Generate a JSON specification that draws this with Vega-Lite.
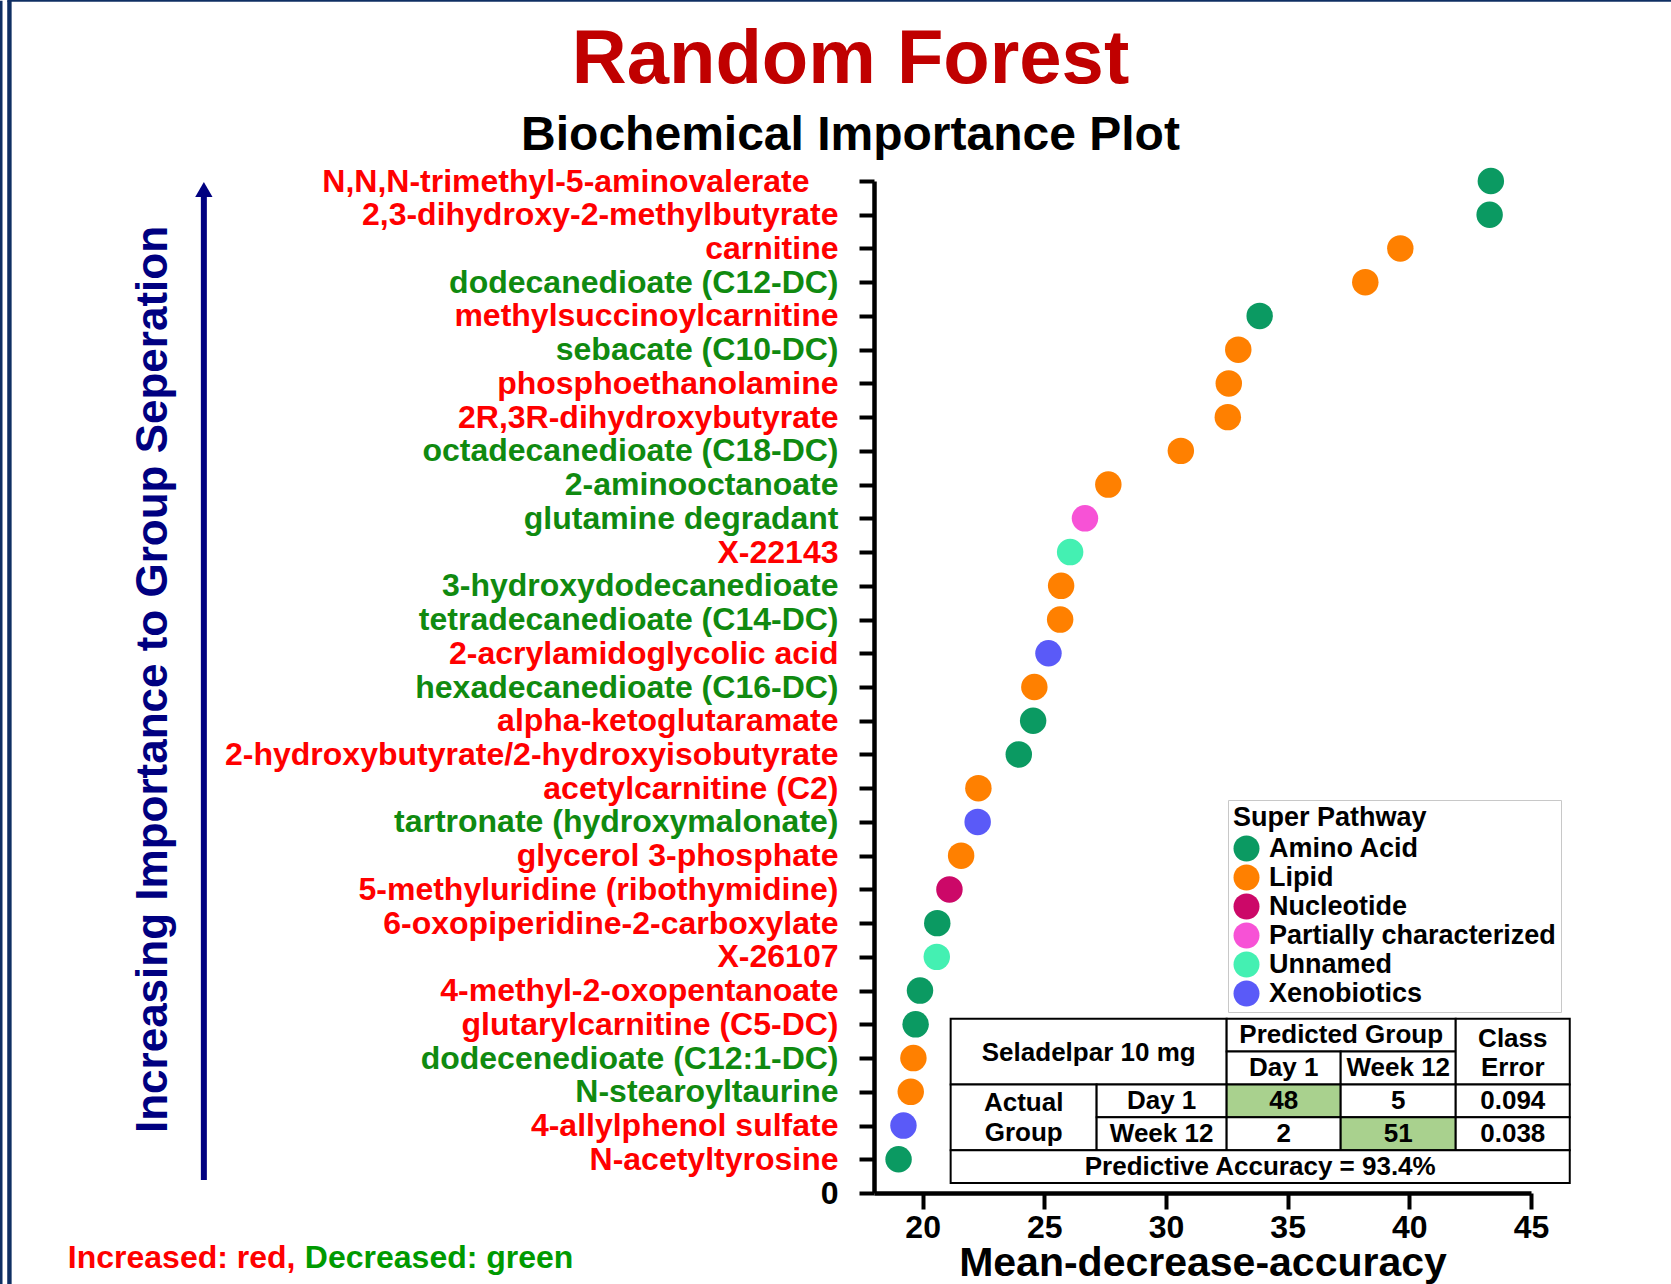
{
  "$schema": "https://vega.github.io/schema/vega-lite/v6.json",
  "width": 657,
  "height": 1012,
  "autosize": {"type": "none"},
  "padding": {"left": 874, "top": 181, "right": 140, "bottom": 91},
  "background": "white",
  "config": {"font": "Liberation Sans", "view": {"stroke": null}, "axisY": {"labelOverlap": false, "labelLimit": 900, "labelBound": false}},
  "title": {
    "text": "Random Forest",
    "subtitle": "Biochemical Importance Plot",
    "anchor": "middle",
    "frame": "group",
    "dx": -352,
    "offset": -162,
    "fontSize": 76,
    "fontWeight": "bold",
    "color": "#C00000",
    "font": "Liberation Sans",
    "subtitleFont": "Liberation Sans",
    "subtitleFontSize": 48,
    "subtitleFontWeight": "bold",
    "subtitleColor": "black",
    "subtitlePadding": 13
  },
  "datasets": {
    "metabolites": [
      {"rank": 30, "name": "N,N,N-trimethyl-5-aminovalerate", "change": "increased", "pathway": "Amino Acid", "mda": 43.35},
      {"rank": 29, "name": "2,3-dihydroxy-2-methylbutyrate", "change": "increased", "pathway": "Amino Acid", "mda": 43.3},
      {"rank": 28, "name": "carnitine", "change": "increased", "pathway": "Lipid", "mda": 39.63},
      {"rank": 27, "name": "dodecanedioate (C12-DC)", "change": "decreased", "pathway": "Lipid", "mda": 38.19},
      {"rank": 26, "name": "methylsuccinoylcarnitine", "change": "increased", "pathway": "Amino Acid", "mda": 33.85},
      {"rank": 25, "name": "sebacate (C10-DC)", "change": "decreased", "pathway": "Lipid", "mda": 32.97},
      {"rank": 24, "name": "phosphoethanolamine", "change": "increased", "pathway": "Lipid", "mda": 32.58},
      {"rank": 23, "name": "2R,3R-dihydroxybutyrate", "change": "increased", "pathway": "Lipid", "mda": 32.54},
      {"rank": 22, "name": "octadecanedioate (C18-DC)", "change": "decreased", "pathway": "Lipid", "mda": 30.61},
      {"rank": 21, "name": "2-aminooctanoate", "change": "decreased", "pathway": "Lipid", "mda": 27.63},
      {"rank": 20, "name": "glutamine degradant", "change": "decreased", "pathway": "Partially characterized", "mda": 26.67},
      {"rank": 19, "name": "X-22143", "change": "increased", "pathway": "Unnamed", "mda": 26.06},
      {"rank": 18, "name": "3-hydroxydodecanedioate", "change": "decreased", "pathway": "Lipid", "mda": 25.69},
      {"rank": 17, "name": "tetradecanedioate (C14-DC)", "change": "decreased", "pathway": "Lipid", "mda": 25.65},
      {"rank": 16, "name": "2-acrylamidoglycolic acid", "change": "increased", "pathway": "Xenobiotics", "mda": 25.17},
      {"rank": 15, "name": "hexadecanedioate (C16-DC)", "change": "decreased", "pathway": "Lipid", "mda": 24.59},
      {"rank": 14, "name": "alpha-ketoglutaramate", "change": "increased", "pathway": "Amino Acid", "mda": 24.54},
      {"rank": 13, "name": "2-hydroxybutyrate/2-hydroxyisobutyrate", "change": "increased", "pathway": "Amino Acid", "mda": 23.95},
      {"rank": 12, "name": "acetylcarnitine (C2)", "change": "increased", "pathway": "Lipid", "mda": 22.29},
      {"rank": 11, "name": "tartronate (hydroxymalonate)", "change": "decreased", "pathway": "Xenobiotics", "mda": 22.26},
      {"rank": 10, "name": "glycerol 3-phosphate", "change": "increased", "pathway": "Lipid", "mda": 21.58},
      {"rank": 9, "name": "5-methyluridine (ribothymidine)", "change": "increased", "pathway": "Nucleotide", "mda": 21.1},
      {"rank": 8, "name": "6-oxopiperidine-2-carboxylate", "change": "increased", "pathway": "Amino Acid", "mda": 20.6},
      {"rank": 7, "name": "X-26107", "change": "increased", "pathway": "Unnamed", "mda": 20.58},
      {"rank": 6, "name": "4-methyl-2-oxopentanoate", "change": "increased", "pathway": "Amino Acid", "mda": 19.89},
      {"rank": 5, "name": "glutarylcarnitine (C5-DC)", "change": "increased", "pathway": "Amino Acid", "mda": 19.71},
      {"rank": 4, "name": "dodecenedioate (C12:1-DC)", "change": "decreased", "pathway": "Lipid", "mda": 19.62},
      {"rank": 3, "name": "N-stearoyltaurine", "change": "decreased", "pathway": "Lipid", "mda": 19.51},
      {"rank": 2, "name": "4-allylphenol sulfate", "change": "increased", "pathway": "Xenobiotics", "mda": 19.21},
      {"rank": 1, "name": "N-acetyltyrosine", "change": "increased", "pathway": "Amino Acid", "mda": 19.01}
    ],
    "tableCells": [
      {"c0": 0, "c1": 2.229, "r0": 3, "r1": 5, "hl": false},
      {"c0": 2.229, "c1": 4.079, "r0": 4, "r1": 5, "hl": false},
      {"c0": 2.229, "c1": 3.15, "r0": 3, "r1": 4, "hl": false},
      {"c0": 3.15, "c1": 4.079, "r0": 3, "r1": 4, "hl": false},
      {"c0": 4.079, "c1": 5, "r0": 3, "r1": 5, "hl": false},
      {"c0": 0, "c1": 1.179, "r0": 1, "r1": 3, "hl": false},
      {"c0": 1.179, "c1": 2.229, "r0": 2, "r1": 3, "hl": false},
      {"c0": 1.179, "c1": 2.229, "r0": 1, "r1": 2, "hl": false},
      {"c0": 2.229, "c1": 3.15, "r0": 2, "r1": 3, "hl": true},
      {"c0": 3.15, "c1": 4.079, "r0": 2, "r1": 3, "hl": false},
      {"c0": 4.079, "c1": 5, "r0": 2, "r1": 3, "hl": false},
      {"c0": 2.229, "c1": 3.15, "r0": 1, "r1": 2, "hl": false},
      {"c0": 3.15, "c1": 4.079, "r0": 1, "r1": 2, "hl": true},
      {"c0": 4.079, "c1": 5, "r0": 1, "r1": 2, "hl": false},
      {"c0": 0, "c1": 5, "r0": 0, "r1": 1, "hl": false}
    ],
    "tableText": [
      {"label": "Seladelpar 10 mg", "col": 1.115, "row": 3.96},
      {"label": "Predicted Group", "col": 3.154, "row": 4.5},
      {"label": "Day 1", "col": 2.69, "row": 3.5},
      {"label": "Week 12", "col": 3.615, "row": 3.5},
      {"label": "Class", "col": 4.54, "row": 4.385},
      {"label": "Error", "col": 4.54, "row": 3.5},
      {"label": "Actual", "col": 0.59, "row": 2.436},
      {"label": "Group", "col": 0.59, "row": 1.522},
      {"label": "Day 1", "col": 1.704, "row": 2.5},
      {"label": "Week 12", "col": 1.704, "row": 1.5},
      {"label": "48", "col": 2.69, "row": 2.5},
      {"label": "5", "col": 3.615, "row": 2.5},
      {"label": "0.094", "col": 4.54, "row": 2.5},
      {"label": "2", "col": 2.69, "row": 1.5},
      {"label": "51", "col": 3.615, "row": 1.5},
      {"label": "0.038", "col": 4.54, "row": 1.5},
      {"label": "Predictive Accuracy = 93.4%", "col": 2.5, "row": 0.5}
    ]
  },
  "layer": [
    {
      "data": {"name": "metabolites"},
      "mark": {"type": "point", "filled": true, "shape": "circle", "size": 700, "opacity": 1},
      "encoding": {
        "x": {
          "field": "mda",
          "type": "quantitative",
          "scale": {"domain": [18, 45], "nice": false, "zero": false},
          "axis": {
            "values": [20, 25, 30, 35, 40, 45],
            "grid": false,
            "labelFlush": false,
            "labelFontSize": 32,
            "labelFontWeight": "bold",
            "labelColor": "black",
            "labelPadding": 3,
            "tickSize": 16,
            "tickWidth": 4,
            "tickColor": "black",
            "domainColor": "black",
            "domainWidth": 4.5,
            "title": "Mean-decrease-accuracy",
            "titleFontSize": 41,
            "titleFontWeight": "bold",
            "titleColor": "black",
            "titlePadding": 0
          }
        },
        "y": {
          "field": "rank",
          "type": "quantitative",
          "scale": {"domain": [0, 30], "nice": false, "zero": true},
          "axis": {
            "values": [0, 1, 2, 3, 4, 5, 6, 7, 8, 9, 10, 11, 12, 13, 14, 15, 16, 17, 18, 19, 20, 21, 22, 23, 24, 25, 26, 27, 28, 29, 30],
            "labelExpr": "['0','N-acetyltyrosine','4-allylphenol sulfate','N-stearoyltaurine','dodecenedioate (C12:1-DC)','glutarylcarnitine (C5-DC)','4-methyl-2-oxopentanoate','X-26107','6-oxopiperidine-2-carboxylate','5-methyluridine (ribothymidine)','glycerol 3-phosphate','tartronate (hydroxymalonate)','acetylcarnitine (C2)','2-hydroxybutyrate/2-hydroxyisobutyrate','alpha-ketoglutaramate','hexadecanedioate (C16-DC)','2-acrylamidoglycolic acid','tetradecanedioate (C14-DC)','3-hydroxydodecanedioate','X-22143','glutamine degradant','2-aminooctanoate','octadecanedioate (C18-DC)','2R,3R-dihydroxybutyrate','phosphoethanolamine','sebacate (C10-DC)','methylsuccinoylcarnitine','dodecanedioate (C12-DC)','carnitine','2,3-dihydroxy-2-methylbutyrate','N,N,N-trimethyl-5-aminovalerate'][datum.value]",
            "labelColor": {
              "condition": [
                {"test": "datum.value == 0", "value": "black"},
                {"test": "indexof([1,2,5,6,7,8,9,10,12,13,14,16,19,23,24,26,28,29,30], datum.value) >= 0", "value": "#FF0000"}
              ],
              "value": "#108A10"
            },
            "labelPadding": {"condition": {"test": "datum.value == 30", "value": 50}, "value": 21},
            "grid": false,
            "labelFlush": false,
            "labelOverlap": false,
            "labelBound": false,
            "labelLimit": 900,
            "labelFontSize": 32,
            "labelFontWeight": "bold",
            "tickSize": 15,
            "tickWidth": 4,
            "tickColor": "black",
            "domainColor": "black",
            "domainWidth": 4.5,
            "title": "Increasing Importance to Group Seperation",
            "titleFontSize": 44,
            "titleFontWeight": "bold",
            "titleColor": "#000080",
            "titleAngle": -90,
            "titleAlign": "center",
            "titleBaseline": "alphabetic",
            "titleX": -708,
            "titleY": 498
          }
        },
        "color": {
          "field": "pathway",
          "type": "nominal",
          "scale": {
            "domain": ["Amino Acid", "Lipid", "Nucleotide", "Partially characterized", "Unnamed", "Xenobiotics"],
            "range": ["#0B9A62", "#FF8000", "#CC0868", "#F752D6", "#44F0B2", "#5A5AF8"]
          },
          "legend": {
            "title": "Super Pathway",
            "orient": "none",
            "legendX": 354,
            "legendY": 619,
            "direction": "vertical",
            "strokeColor": "#C8C8C8",
            "fillColor": "white",
            "padding": 5,
            "titleFontSize": 27,
            "titleFontWeight": "bold",
            "titleColor": "black",
            "titleLimit": 400,
            "titlePadding": 3,
            "labelFontSize": 27,
            "labelFontWeight": "bold",
            "labelColor": "black",
            "labelLimit": 400,
            "labelOffset": 9,
            "symbolType": "circle",
            "symbolSize": 676,
            "symbolOpacity": 1,
            "symbolStrokeWidth": 0,
            "rowPadding": 1
          }
        }
      }
    },
    {
      "data": {"values": [{}]},
      "layer": [
        {
          "mark": {"type": "rule", "color": "#000080", "strokeWidth": 6},
          "encoding": {
            "x": {"datum": -9.54, "type": "quantitative", "scale": {"domain": [18, 45], "nice": false, "zero": false}, "axis": null},
            "y": {"datum": 0.385, "type": "quantitative", "scale": {"domain": [0, 30], "nice": false, "zero": false}, "axis": null},
            "y2": {"datum": 29.6}
          }
        },
        {
          "mark": {"type": "point", "shape": "triangle-up", "filled": true, "color": "#000080", "size": 300, "opacity": 1},
          "encoding": {
            "x": {"datum": -9.54, "type": "quantitative", "scale": {"domain": [18, 45], "nice": false, "zero": false}, "axis": null},
            "y": {"datum": 29.75, "type": "quantitative", "scale": {"domain": [0, 30], "nice": false, "zero": false}, "axis": null}
          }
        },
        {
          "mark": {"type": "rule", "color": "#0F2F63", "strokeWidth": 2.7},
          "encoding": {
            "x": {"datum": -17.87, "type": "quantitative", "scale": {"domain": [18, 45], "nice": false, "zero": false}, "axis": null},
            "y": {"datum": -2.8, "type": "quantitative", "scale": {"domain": [0, 30], "nice": false, "zero": false}, "axis": null},
            "y2": {"datum": 35.34}
          }
        },
        {
          "mark": {"type": "rule", "color": "#0F2F63", "strokeWidth": 4.4},
          "encoding": {
            "x": {"datum": -17.53, "type": "quantitative", "scale": {"domain": [18, 45], "nice": false, "zero": false}, "axis": null},
            "y": {"datum": -2.8, "type": "quantitative", "scale": {"domain": [0, 30], "nice": false, "zero": false}, "axis": null},
            "y2": {"datum": 35.34}
          }
        },
        {
          "mark": {"type": "rule", "color": "#0F2F63", "strokeWidth": 2},
          "encoding": {
            "x": {"datum": -17.62, "type": "quantitative", "scale": {"domain": [18, 45], "nice": false, "zero": false}, "axis": null},
            "x2": {"datum": 51},
            "y": {"datum": 35.34, "type": "quantitative", "scale": {"domain": [0, 30], "nice": false, "zero": false}, "axis": null}
          }
        },
        {
          "mark": {"type": "text", "text": "Increased: red,", "align": "left", "baseline": "alphabetic", "fontSize": 32, "fontWeight": "bold", "color": "#FF0000"},
          "encoding": {
            "x": {"datum": -15.13, "type": "quantitative", "scale": {"domain": [18, 45], "nice": false, "zero": false}, "axis": null},
            "y": {"datum": -2.22, "type": "quantitative", "scale": {"domain": [0, 30], "nice": false, "zero": false}, "axis": null}
          }
        },
        {
          "mark": {"type": "text", "text": "Decreased: green", "align": "left", "baseline": "alphabetic", "fontSize": 32, "fontWeight": "bold", "color": "#009A00"},
          "encoding": {
            "x": {"datum": -5.39, "type": "quantitative", "scale": {"domain": [18, 45], "nice": false, "zero": false}, "axis": null},
            "y": {"datum": -2.22, "type": "quantitative", "scale": {"domain": [0, 30], "nice": false, "zero": false}, "axis": null}
          }
        }
      ]
    },
    {
      "layer": [
        {
          "data": {"name": "tableCells"},
          "mark": {"type": "rect", "stroke": "black", "strokeWidth": 2},
          "encoding": {
            "x": {"field": "c0", "type": "quantitative", "scale": {"domain": [-0.619, 4.687], "nice": false, "zero": false}, "axis": null},
            "x2": {"field": "c1"},
            "y": {"field": "r0", "type": "quantitative", "scale": {"domain": [-0.305, 30.51], "nice": false, "zero": false}, "axis": null},
            "y2": {"field": "r1"},
            "fill": {"condition": {"test": "datum.hl", "value": "#A9D18E"}, "value": "white"}
          }
        },
        {
          "data": {"name": "tableText"},
          "mark": {"type": "text", "fontSize": 26, "fontWeight": "bold", "color": "black", "align": "center", "baseline": "middle"},
          "encoding": {
            "x": {"field": "col", "type": "quantitative", "scale": {"domain": [-0.619, 4.687], "nice": false, "zero": false}, "axis": null},
            "y": {"field": "row", "type": "quantitative", "scale": {"domain": [-0.305, 30.51], "nice": false, "zero": false}, "axis": null},
            "text": {"field": "label", "type": "nominal"}
          }
        }
      ]
    }
  ],
  "resolve": {"scale": {"x": "independent", "y": "independent"}}
}
